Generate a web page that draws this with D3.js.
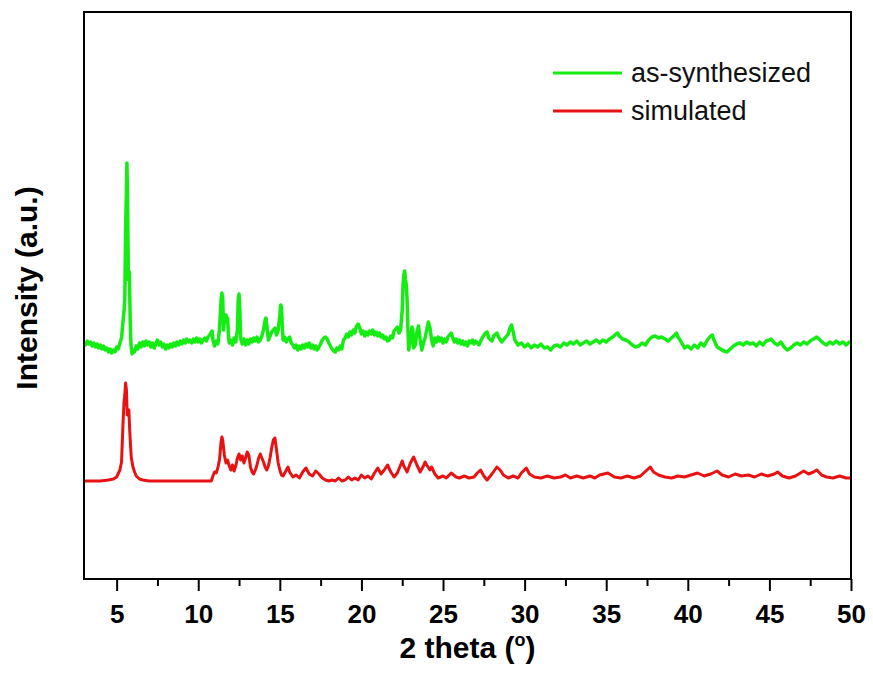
<!DOCTYPE html>
<html>
<head>
<meta charset="utf-8">
<script src="https://cdn.jsdelivr.net/npm/d3@7"></script>
<style>
body { margin: 0; background: #fff; }
</style>
</head>
<body>
<svg></svg>
<script>
// XRD patterns, [2 theta, intensity (a.u.)]
var asSynthesized = [
[3.0,257],[3.1,255],[3.2,259],[3.3,256],[3.4,258],[3.5,254],[3.6,257],[3.7,253],[3.8,256],[3.9,252],
[4.0,255],[4.1,251],[4.2,254],[4.3,250],[4.4,252],[4.5,248],[4.6,251],[4.7,247],[4.8,250],[4.9,248],
[5.0,253],[5.1,251],[5.2,257],[5.3,262],[5.4,280],[5.45,288],[5.5,300],[5.55,370],[5.6,410],[5.63,437],
[5.67,400],[5.72,320],[5.78,328],[5.83,280],[5.88,255],[5.95,246],[6.0,250],[6.1,248],[6.2,254],[6.3,251],
[6.4,257],[6.5,253],[6.6,258],[6.7,254],[6.8,259],[6.9,255],[7.0,258],[7.1,253],[7.2,257],[7.3,252],
[7.4,256],[7.5,260],[7.6,255],[7.7,258],[7.8,253],[7.9,256],[8.0,251],[8.1,255],[8.2,252],[8.3,256],
[8.4,253],[8.5,257],[8.6,254],[8.7,258],[8.8,255],[8.9,259],[9.0,256],[9.1,260],[9.2,257],[9.3,261],
[9.4,258],[9.5,260],[9.6,257],[9.7,261],[9.8,258],[9.9,262],[10.0,258],[10.1,261],[10.2,257],[10.3,260],
[10.4,262],[10.5,259],[10.6,263],[10.7,265],[10.8,268],[10.85,269],[10.9,260],[11.0,254],[11.1,259],[11.2,256],
[11.3,270],[11.4,300],[11.45,307],[11.5,302],[11.55,270],[11.6,280],[11.7,285],[11.75,278],[11.8,282],[11.85,265],
[11.9,257],[12.0,260],[12.1,255],[12.2,262],[12.3,258],[12.4,270],[12.45,300],[12.5,306],[12.55,290],[12.6,262],
[12.7,256],[12.8,261],[12.9,255],[13.0,260],[13.1,256],[13.2,261],[13.3,258],[13.4,262],[13.5,259],[13.6,263],
[13.7,258],[13.8,260],[13.9,264],[14.0,270],[14.1,280],[14.15,282],[14.2,275],[14.3,260],[14.4,264],[14.5,268],
[14.6,270],[14.7,272],[14.8,265],[14.9,270],[15.0,285],[15.05,295],[15.1,293],[15.15,275],[15.2,260],[15.3,263],
[15.4,258],[15.5,261],[15.6,263],[15.7,257],[15.8,255],[15.9,252],[16.0,255],[16.1,250],[16.2,254],[16.3,251],
[16.4,255],[16.5,252],[16.6,256],[16.7,253],[16.8,257],[16.9,252],[17.0,255],[17.1,251],[17.2,254],[17.3,250],
[17.4,253],[17.5,256],[17.6,260],[17.7,262],[17.8,263],[17.9,261],[18.0,257],[18.1,254],[18.2,251],[18.3,249],
[18.4,248],[18.5,252],[18.6,250],[18.7,254],[18.8,251],[18.9,260],[19.0,262],[19.1,266],[19.2,263],[19.3,268],
[19.4,265],[19.5,270],[19.6,267],[19.7,274],[19.8,276],[19.9,272],[20.0,266],[20.1,269],[20.2,264],[20.3,268],
[20.4,265],[20.5,269],[20.6,266],[20.7,270],[20.8,265],[20.9,268],[21.0,264],[21.1,267],[21.2,263],[21.3,265],
[21.4,261],[21.5,263],[21.6,259],[21.7,260],[21.8,264],[21.9,262],[22.0,269],[22.1,271],[22.2,273],[22.3,267],
[22.4,270],[22.5,290],[22.55,315],[22.6,325],[22.65,329],[22.7,320],[22.75,315],[22.8,300],[22.85,270],[22.9,250],
[23.0,258],[23.1,273],[23.15,270],[23.2,252],[23.3,255],[23.4,268],[23.5,274],[23.6,260],[23.7,250],[23.8,257],
[23.9,262],[24.0,270],[24.1,278],[24.2,272],[24.3,260],[24.4,254],[24.5,262],[24.6,258],[24.7,263],[24.8,259],
[24.9,262],[25.0,257],[25.1,261],[25.2,258],[25.3,263],[25.4,265],[25.5,267],[25.6,262],[25.7,258],[25.8,261],
[25.9,257],[26.0,260],[26.1,256],[26.2,259],[26.3,255],[26.4,258],[26.5,254],[26.6,259],[26.7,257],[26.8,260],
[26.9,256],[27.0,259],[27.2,255],[27.4,262],[27.6,267],[27.7,268],[27.8,262],[28.0,259],[28.1,264],[28.3,267],
[28.4,263],[28.6,258],[28.8,262],[29.0,266],[29.1,272],[29.2,275],[29.3,268],[29.4,260],[29.6,255],[29.8,257],
[30.0,253],[30.2,256],[30.4,252],[30.6,255],[30.8,253],[31.0,256],[31.2,252],[31.4,253],[31.6,250],[31.8,254],
[32.0,255],[32.2,253],[32.4,257],[32.6,255],[32.8,258],[33.0,256],[33.2,259],[33.4,255],[33.6,257],[33.8,259],
[34.0,256],[34.2,258],[34.4,260],[34.6,257],[34.8,260],[35.0,258],[35.2,261],[35.4,263],[35.6,266],[35.7,267],
[35.8,264],[36.0,261],[36.2,260],[36.4,258],[36.6,255],[36.8,253],[37.0,254],[37.2,257],[37.4,255],[37.6,260],
[37.8,263],[38.0,264],[38.2,262],[38.4,263],[38.6,261],[38.8,259],[39.0,262],[39.2,265],[39.3,267],[39.4,263],
[39.6,258],[39.8,252],[40.0,254],[40.2,251],[40.4,255],[40.6,252],[40.8,257],[41.0,254],[41.2,260],[41.4,264],
[41.5,265],[41.6,260],[41.8,253],[42.0,251],[42.2,249],[42.4,248],[42.6,251],[42.8,254],[43.0,256],[43.2,257],
[43.4,255],[43.6,258],[43.8,256],[44.0,257],[44.2,254],[44.4,258],[44.6,255],[44.8,259],[45.0,260],[45.1,261],
[45.3,257],[45.5,255],[45.7,258],[45.9,253],[46.1,250],[46.3,252],[46.5,255],[46.7,257],[46.9,255],[47.1,258],
[47.3,256],[47.5,259],[47.7,261],[47.9,263],[48.1,260],[48.3,257],[48.5,255],[48.7,258],[48.9,256],[49.1,259],
[49.3,256],[49.5,258],[49.7,255],[49.9,258],[50.0,257]
];

var simulated = [
[3.0,119],[4.0,119],[4.5,120],[4.8,121],[5.0,123],[5.2,130],[5.3,138],[5.4,180],[5.45,197],[5.5,205],
[5.55,217],[5.6,210],[5.65,185],[5.7,188],[5.75,190],[5.8,170],[5.85,155],[5.9,142],[6.0,133],[6.1,128],
[6.2,124],[6.4,121],[6.6,120],[7.0,119],[8.0,119],[9.0,119],[10.0,119],[10.8,119],[10.9,124],[11.0,128],
[11.1,127],[11.2,132],[11.3,140],[11.4,158],[11.45,163],[11.5,160],[11.6,145],[11.7,137],[11.8,140],[11.9,134],
[12.0,130],[12.1,135],[12.2,129],[12.3,134],[12.4,142],[12.5,146],[12.6,140],[12.7,144],[12.8,137],[12.9,142],
[13.0,148],[13.1,145],[13.2,133],[13.3,128],[13.4,126],[13.5,130],[13.6,135],[13.7,142],[13.8,146],[13.9,142],
[14.0,138],[14.1,133],[14.2,130],[14.3,134],[14.4,142],[14.5,152],[14.6,160],[14.7,162],[14.8,150],[14.9,137],
[15.0,130],[15.1,125],[15.2,124],[15.4,130],[15.5,133],[15.6,128],[15.8,123],[16.0,125],[16.2,122],[16.4,128],
[16.6,132],[16.8,126],[17.0,124],[17.2,129],[17.4,126],[17.6,122],[17.8,120],[18.0,119],[18.2,120],[18.4,119],
[18.6,122],[18.8,119],[19.0,120],[19.2,123],[19.4,120],[19.6,122],[19.8,120],[20.0,125],[20.2,122],[20.4,124],
[20.6,121],[20.8,127],[21.0,132],[21.2,126],[21.4,130],[21.6,135],[21.8,128],[22.0,123],[22.2,127],[22.4,135],
[22.5,139],[22.6,134],[22.8,128],[23.0,137],[23.2,143],[23.4,135],[23.6,128],[23.8,134],[23.9,138],[24.0,135],
[24.2,130],[24.3,133],[24.5,126],[24.7,122],[25.0,124],[25.2,122],[25.5,127],[25.8,123],[26.0,122],[26.3,124],
[26.6,122],[26.9,123],[27.1,127],[27.3,130],[27.5,124],[27.7,120],[28.0,126],[28.3,133],[28.5,130],[28.7,125],
[29.0,122],[29.3,124],[29.6,122],[29.8,127],[30.1,132],[30.3,126],[30.6,123],[31.0,122],[31.4,124],[31.8,122],
[32.2,123],[32.5,125],[32.8,122],[33.2,124],[33.6,122],[34.0,124],[34.3,122],[34.6,125],[35.1,127],[35.5,123],
[35.9,122],[36.3,124],[36.7,122],[37.1,124],[37.5,130],[37.7,133],[37.9,128],[38.2,125],[38.6,123],[39.0,122],
[39.4,124],[39.8,123],[40.2,125],[40.6,127],[41.0,124],[41.4,126],[41.8,129],[42.1,125],[42.5,123],[42.9,126],
[43.3,124],[43.7,125],[44.1,123],[44.5,126],[44.9,124],[45.3,126],[45.5,128],[45.8,124],[46.2,122],[46.6,124],
[46.9,127],[47.1,129],[47.4,126],[47.7,128],[47.9,130],[48.2,125],[48.5,123],[48.9,122],[49.3,124],[49.7,122],
[50.0,122]
];

var seriesNames = ["as-synthesized", "simulated"];
var majorTicks = [5, 10, 15, 20, 25, 30, 35, 40, 45, 50];
var minorTicks = [7.5, 12.5, 17.5, 22.5, 27.5, 32.5, 37.5, 42.5, 47.5];

var width = 873;
var height = 681;
// plot frame (note: "top" is taken by window.top, so use plot* names)
var plotLeft = 84, plotRight = 851, plotTop = 12, plotBottom = 579;

var colors = ["#14ec14", "#e81212"];
var lineWidths = [3.5, 3];

var svg = d3.select("svg")
    .attr("width", width)
    .attr("height", height)
    .style("font-family", "'Liberation Sans', Arial, sans-serif");

var x = d3.scaleLinear()
    .domain([3, 50])
    .range([plotLeft, plotRight]);

var y = d3.scaleLinear()
    .domain([21, 588])
    .range([plotBottom, plotTop]);

var line = d3.line()
    .x(function(d) { return x(d[0]); })
    .y(function(d) { return y(d[1]); });

// the two patterns
svg.selectAll(".pattern")
    .data([asSynthesized, simulated])
    .enter().append("path")
    .attr("class", "pattern")
    .attr("d", line)
    .style("fill", "none")
    .style("stroke", function(d, i) { return colors[i]; })
    .style("stroke-width", function(d, i) { return lineWidths[i]; })
    .style("stroke-linejoin", "round");

// bottom axis, minor ticks first then the labelled ones
svg.append("g")
    .attr("transform", "translate(0," + plotBottom + ")")
    .call(d3.axisBottom(x)
        .tickValues(minorTicks)
        .tickSize(7)
        .tickFormat(""))
    .call(function(g) { g.select(".domain").remove(); })
    .selectAll("line")
    .style("stroke", "#000")
    .style("stroke-width", 2);

var xAxis = svg.append("g")
    .attr("transform", "translate(0," + plotBottom + ")")
    .call(d3.axisBottom(x)
        .tickValues(majorTicks)
        .tickSize(12)
        .tickPadding(14));

xAxis.select(".domain").remove();
xAxis.selectAll("line")
    .style("stroke", "#000")
    .style("stroke-width", 2);
xAxis.selectAll("text")
    .style("font-family", "'Liberation Sans', Arial, sans-serif")
    .style("font-size", "26px")
    .style("font-weight", "bold")
    .style("fill", "#000");

// frame
svg.append("rect")
    .attr("x", plotLeft)
    .attr("y", plotTop)
    .attr("width", plotRight - plotLeft)
    .attr("height", plotBottom - plotTop)
    .style("fill", "none")
    .style("stroke", "#000")
    .style("stroke-width", 2);

// axis titles
var xTitle = svg.append("text")
    .attr("x", (plotLeft + plotRight) / 2)
    .attr("y", 658)
    .attr("text-anchor", "middle")
    .style("font-size", "30px")
    .style("font-weight", "bold")
    .text("2 theta (");
xTitle.append("tspan")
    .attr("dy", -12)
    .style("font-size", "18px")
    .text("o");
xTitle.append("tspan")
    .attr("dy", 12)
    .text(")");

svg.append("text")
    .attr("transform", "translate(37,288) rotate(-90)")
    .attr("text-anchor", "middle")
    .style("font-size", "30px")
    .style("font-weight", "bold")
    .text("Intensity (a.u.)");

// legend
var legend = svg.append("g")
    .selectAll("g")
    .data(seriesNames)
    .enter().append("g")
    .attr("transform", function(d, i) { return "translate(553," + (73 + i * 38) + ")"; });

legend.append("line")
    .attr("x1", 0)
    .attr("x2", 69)
    .style("stroke", function(d, i) { return colors[i]; })
    .style("stroke-width", 3);

legend.append("text")
    .attr("x", 78)
    .attr("y", 9)
    .style("font-size", "27px")
    .style("fill", "#111")
    .text(function(d) { return d; });
</script>
</body>
</html>
